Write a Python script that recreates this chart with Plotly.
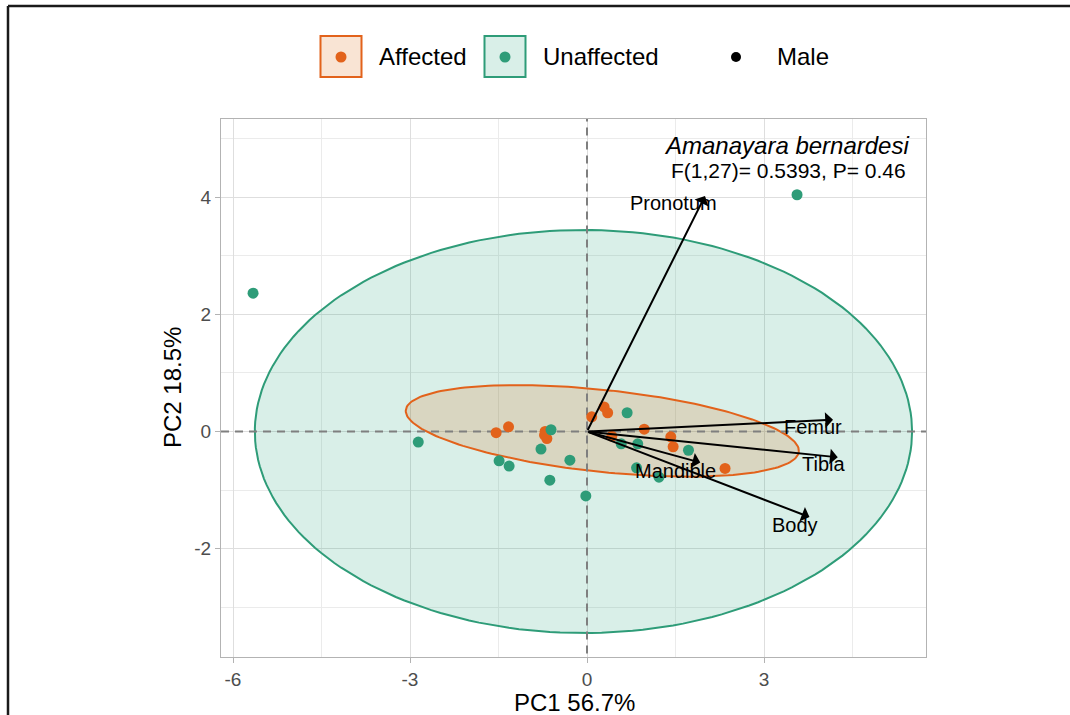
import numpy as np
import plotly.graph_objects as go

# --- PCA scores ---------------------------------------------------------
affected_pc1 = [-1.54, -1.33, -0.71, -0.68, -0.72, 0.08, 0.29, 0.35, 0.42, 0.97, 1.42, 1.46, 2.34]
affected_pc2 = [-0.02, 0.08, 0.00, -0.12, -0.06, 0.25, 0.42, 0.32, -0.08, 0.04, -0.09, -0.26, -0.63]

unaffected_pc1 = [-5.66, 3.56, -2.86, -1.49, -1.32, -0.63, -0.02, -0.29, -0.78, -0.61,
                  0.68, 0.86, 0.58, 1.72, 0.84, 1.22]
unaffected_pc2 = [2.36, 4.04, -0.18, -0.50, -0.59, -0.83, -1.10, -0.49, -0.30, 0.03,
                  0.32, -0.21, -0.21, -0.32, -0.62, -0.78]

# --- variable loadings (arrow tips) and label anchors --------------------
var_names = ["Pronotum", "Femur", "Tibia", "Body", "Mandible"]
var_pc1 = [2.00, 4.17, 4.25, 3.77, 1.92]
var_pc2 = [4.02, 0.20, -0.44, -1.46, -0.53]
lab_pc1 = [1.47, 3.83, 4.00, 3.52, 1.50]
lab_pc2 = [3.90, 0.07, -0.55, -1.60, -0.67]

# --- group confidence ellipses: centre, semi-axes, rotation (deg) -------
ell_groups = ["Unaffected", "Affected"]
ell_cx = [-0.06, 0.26]
ell_cy = [0.00, 0.01]
ell_a = [5.57, 3.35]
ell_b = [3.44, 0.70]
ell_angle = [0.0, -6.1]

# --- axis ticks ----------------------------------------------------------
x_ticks = [-6, -3, 0, 3]
y_ticks = [-2, 0, 2, 4]

ORANGE = "#E2621B"
GREEN = "#2E9C78"
FONT = "Liberation Sans, Arial, sans-serif"

W, H = 1070, 715
L, R, T, B = 221, 926, 119, 657          # plot-area edges in pixels
PW, PH = R - L, B - T


def px(x):
    return (x - L) / PW


def py(y):
    return (B - y) / PH


def ellipse_path(cx, cy, a, b, ang_deg, n=200):
    t = np.linspace(0, 2 * np.pi, n)
    th = np.deg2rad(ang_deg)
    xs = cx + a * np.cos(t) * np.cos(th) - b * np.sin(t) * np.sin(th)
    ys = cy + a * np.cos(t) * np.sin(th) + b * np.sin(t) * np.cos(th)
    return xs, ys


def paper_text(x, y, text, size, **kw):
    d = dict(x=px(x), y=py(y), xref="paper", yref="paper", text=text, showarrow=False,
             xanchor="center", yanchor="middle",
             font=dict(family=FONT, size=size, color="black"))
    d.update(kw)
    return d


fig = go.Figure()

ell_line = {"Unaffected": GREEN, "Affected": ORANGE}
ell_fill = {"Unaffected": "rgba(27,158,119,0.17)", "Affected": "rgba(217,95,2,0.17)"}
for g, cx, cy, a, b, ang in zip(ell_groups, ell_cx, ell_cy, ell_a, ell_b, ell_angle):
    xs, ys = ellipse_path(cx, cy, a, b, ang)
    fig.add_trace(go.Scatter(x=xs, y=ys, mode="lines", fill="toself",
                             fillcolor=ell_fill[g], line=dict(color=ell_line[g], width=2),
                             hoverinfo="skip", showlegend=False))

# dashed reference lines through the origin
fig.add_trace(go.Scatter(x=[-10, 10], y=[0, 0], mode="lines",
                         line=dict(color="#7F7F7F", width=2, dash="8px,6px"),
                         hoverinfo="skip", showlegend=False))
fig.add_trace(go.Scatter(x=[0, 0], y=[-10, 10], mode="lines",
                         line=dict(color="#7F7F7F", width=2, dash="8px,6px"),
                         hoverinfo="skip", showlegend=False))

fig.add_trace(go.Scatter(x=affected_pc1, y=affected_pc2, mode="markers",
                         marker=dict(color=ORANGE, size=11), name="Affected", showlegend=False))
fig.add_trace(go.Scatter(x=unaffected_pc1, y=unaffected_pc2, mode="markers",
                         marker=dict(color=GREEN, size=11), name="Unaffected", showlegend=False))

annotations = []
for vx, vy in zip(var_pc1, var_pc2):
    annotations.append(dict(x=vx, y=vy, ax=0, ay=0, xref="x", yref="y", axref="x", ayref="y",
                            text="", showarrow=True, arrowhead=1, arrowsize=1.3,
                            arrowwidth=2, arrowcolor="black"))
for name, lx, ly in zip(var_names, lab_pc1, lab_pc2):
    annotations.append(dict(x=lx, y=ly, xref="x", yref="y", text=name, showarrow=False,
                            xanchor="center", yanchor="middle",
                            font=dict(family=FONT, size=20, color="black")))

# species name and test statistic
annotations.append(paper_text(786.5, 145, "<i>Amanayara bernardesi</i>", 24))
annotations.append(paper_text(788.5, 170, "F(1,27)= 0.5393, P= 0.46", 21))

# axis titles
annotations.append(paper_text(574, 702, "PC1 56.7%", 24))
annotations.append(paper_text(172, 388, "PC2 18.5%", 24, textangle=-90))

# legend
shapes = []
legend_items = [("Affected", ORANGE, "rgba(217,95,2,0.17)", 320.5, 377),
                ("Unaffected", GREEN, "rgba(27,158,119,0.17)", 484.5, 541)]
for label, col, fillc, bx, tx in legend_items:
    shapes.append(dict(type="rect", xref="paper", yref="paper", x0=px(bx), x1=px(bx + 41),
                       y0=py(77), y1=py(36), line=dict(color=col, width=2), fillcolor=fillc))
    shapes.append(dict(type="circle", xref="paper", yref="paper", xsizemode="pixel",
                       ysizemode="pixel", xanchor=px(bx + 20.5), yanchor=py(57),
                       x0=-5.5, x1=5.5, y0=-5.5, y1=5.5, line=dict(width=0), fillcolor=col))
    annotations.append(paper_text(tx, 57, label, 24, xanchor="left"))
shapes.append(dict(type="circle", xref="paper", yref="paper", xsizemode="pixel",
                   ysizemode="pixel", xanchor=px(736), yanchor=py(57),
                   x0=-5, x1=5, y0=-5, y1=5, line=dict(width=0), fillcolor="black"))
annotations.append(paper_text(775, 57, "Male", 24, xanchor="left"))

# outer frame (top and left edges)
shapes.append(dict(type="line", xref="paper", yref="paper", x0=px(8), x1=px(1100),
                   y0=py(6), y1=py(6), line=dict(color="#1A1A1A", width=2.5)))
shapes.append(dict(type="line", xref="paper", yref="paper", x0=px(8), x1=px(8),
                   y0=py(6), y1=py(760), line=dict(color="#1A1A1A", width=2.5)))

x_range = [(L - 587) / 59.0, (R - 587) / 59.0]
y_range = [(431.5 - B) / 58.6, (431.5 - T) / 58.6]

axis_common = dict(showgrid=True, gridcolor="#DEDEDE", gridwidth=1, zeroline=False,
                   showline=True, linecolor="#B3B3B3", linewidth=1.2, mirror=True,
                   ticks="outside", ticklen=5, tickcolor="#B3B3B3", tickwidth=1,
                   tickfont=dict(family=FONT, size=19, color="#4D4D4D"))

fig.update_layout(
    width=W, height=H,
    margin=dict(l=L, r=W - R, t=T, b=H - B, pad=0),
    paper_bgcolor="white", plot_bgcolor="white",
    xaxis=dict(range=x_range, tickvals=x_ticks, ticktext=[str(v) for v in x_ticks],
               minor=dict(tickvals=[-4.5, -1.5, 1.5, 4.5], showgrid=True,
                          gridcolor="#EBEBEB", gridwidth=1, ticks=""),
               **axis_common),
    yaxis=dict(range=y_range, tickvals=y_ticks, ticktext=[str(v) for v in y_ticks],
               minor=dict(tickvals=[-3, -1, 1, 3, 5], showgrid=True,
                          gridcolor="#EBEBEB", gridwidth=1, ticks=""),
               **axis_common),
    annotations=annotations,
    shapes=shapes,
    showlegend=False,
)

fig.write_html("out.html")
